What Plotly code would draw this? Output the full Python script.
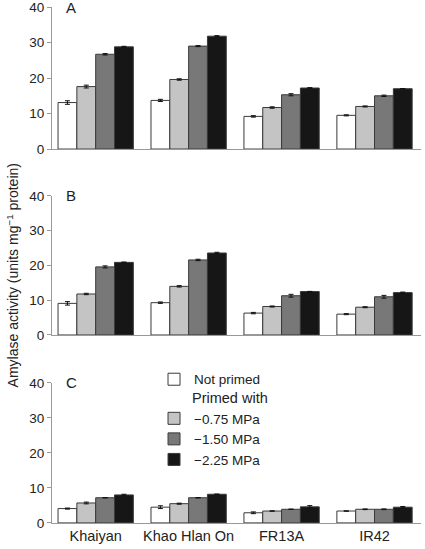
import plotly.graph_objects as go

cultivars = ["Khaiyan", "Khao Hlan On", "FR13A", "IR42"]
series_names = ["Not primed", "\u22120.75 MPa", "\u22121.50 MPa", "\u22122.25 MPa"]
colors = ["#ffffff", "#c4c4c4", "#787878", "#161616"]

# Panel A
a_not = [13.1, 13.7, 9.2, 9.5]
a_075 = [17.6, 19.6, 11.7, 12.0]
a_150 = [26.7, 29.0, 15.3, 15.0]
a_225 = [28.8, 31.8, 17.2, 17.0]
a_err_not = [0.5, 0.3, 0.2, 0.15]
a_err_075 = [0.4, 0.2, 0.2, 0.15]
a_err_150 = [0.2, 0.15, 0.3, 0.2]
a_err_225 = [0.15, 0.15, 0.1, 0.05]

# Panel B
b_not = [9.1, 9.3, 6.3, 6.0]
b_075 = [11.8, 14.0, 8.2, 8.0]
b_150 = [19.6, 21.6, 11.3, 11.0]
b_225 = [20.9, 23.6, 12.5, 12.2]
b_err_not = [0.5, 0.2, 0.2, 0.15]
b_err_075 = [0.2, 0.2, 0.15, 0.15]
b_err_150 = [0.3, 0.2, 0.4, 0.4]
b_err_225 = [0.1, 0.2, 0.05, 0.15]

# Panel C
c_not = [4.1, 4.5, 2.9, 3.4]
c_075 = [5.7, 5.5, 3.4, 3.9]
c_150 = [7.2, 7.2, 3.9, 3.9]
c_225 = [8.0, 8.2, 4.6, 4.5]
c_err_not = [0.15, 0.4, 0.25, 0.05]
c_err_075 = [0.25, 0.15, 0.05, 0.1]
c_err_150 = [0.05, 0.05, 0.05, 0.1]
c_err_225 = [0.2, 0.05, 0.35, 0.2]

y_ticks = [0, 10, 20, 30, 40]
panel_letters = ["A", "B", "C"]

panels = [
    ([a_not, a_075, a_150, a_225], [a_err_not, a_err_075, a_err_150, a_err_225]),
    ([b_not, b_075, b_150, b_225], [b_err_not, b_err_075, b_err_150, b_err_225]),
    ([c_not, c_075, c_150, c_225], [c_err_not, c_err_075, c_err_150, c_err_225]),
]

FONT = "Liberation Sans, Arial, sans-serif"
TXT = "#222222"
fig = go.Figure()

domains = [[0.723, 0.996], [0.3654, 0.6327], [0.004, 0.2731]]

for p, (vals, errs) in enumerate(panels):
    xa = "x" if p == 0 else f"x{p+1}"
    ya = "y" if p == 0 else f"y{p+1}"
    for s in range(4):
        show = p == 2
        legend = "legend" if s == 0 else "legend2"
        fig.add_trace(go.Bar(
            x=cultivars, y=vals[s], name=series_names[s],
            marker=dict(color=colors[s], line=dict(color="#3a3a3a", width=1)),
            error_y=dict(type="data", array=errs[s], color="#111111", thickness=1, width=2.5),
            xaxis=xa, yaxis=ya, showlegend=show, legend=legend,
        ))

legend_common = dict(xanchor="left", yanchor="top", bgcolor="rgba(0,0,0,0)",
                     itemwidth=30, tracegroupgap=0, font=dict(size=13.5, color=TXT),
                     itemclick=False, itemdoubleclick=False)

layout = dict(
    width=425, height=549,
    margin=dict(l=52, r=4, t=5, b=24, autoexpand=False),
    paper_bgcolor="white", plot_bgcolor="white",
    barmode="group", bargap=0.19, bargroupgap=0,
    font=dict(family=FONT, size=13.5, color=TXT),
    showlegend=True,
    legend=dict(x=0.2765, y=0.3097, **legend_common),
    legend2=dict(x=0.2765, y=0.2345, **legend_common),
)

for p in range(3):
    xk = "xaxis" if p == 0 else f"xaxis{p+1}"
    yk = "yaxis" if p == 0 else f"yaxis{p+1}"
    layout[xk] = dict(
        domain=[0, 1], anchor="y" if p == 0 else f"y{p+1}",
        range=[-0.47, 3.5], showline=True, linecolor="#999999", linewidth=1,
        ticks="", showticklabels=(p == 2), showgrid=False, zeroline=False,
        tickfont=dict(size=14.5, color=TXT), fixedrange=True, automargin=False,
    )
    layout[yk] = dict(
        domain=domains[p], anchor="x" if p == 0 else f"x{p+1}",
        range=[0, 40], tickvals=y_ticks, showline=True, linecolor="#999999",
        linewidth=1, ticks="outside", ticklen=4, tickcolor="#999999",
        showgrid=False, zeroline=False, tickfont=dict(size=13.5, color=TXT),
        fixedrange=True, automargin=False, ticklabeloverflow="allow",
    )

fig.update_layout(**layout)

for p, letter in enumerate(panel_letters):
    fig.add_annotation(
        text=letter, xref="x domain" if p == 0 else f"x{p+1} domain",
        yref="y domain" if p == 0 else f"y{p+1} domain",
        x=0.032, y=1.0, xanchor="left", yanchor="middle", showarrow=False,
        font=dict(size=15, color=TXT),
    )

fig.add_annotation(
    text="Primed with", xref="paper", yref="paper", x=0.374, y=0.244,
    xanchor="left", yanchor="middle", showarrow=False,
    font=dict(size=14.5, color=TXT),
)

fig.add_annotation(
    text="Amylase activity (units mg<sup>\u22121</sup> protein)",
    xref="paper", yref="paper", x=-0.1057, y=0.48, textangle=-90,
    xanchor="center", yanchor="middle", showarrow=False,
    font=dict(size=14, color=TXT),
)

fig.write_html(
    "out.html",
    config={"displayModeBar": False},
    post_script="document.body.style.margin='0';document.body.style.overflow='hidden';",
)
